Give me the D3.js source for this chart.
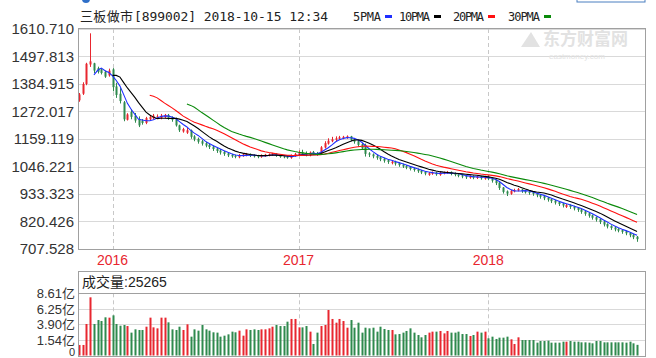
<!DOCTYPE html>
<html><head><meta charset="utf-8">
<script src="https://cdn.jsdelivr.net/npm/d3@7"></script>
<style>body{margin:0;background:#fff}svg{display:block}</style>
</head><body><svg id="c" width="656" height="358"></svg>
<script>
// ---- data (weekly bars, 三板做市 899002) ----
const opens = [1318,1345,1385,1465,1470,1450,1445,1435,1420,1445,
1375,1345,1310,1238,1270,1255,1240,1235,1225,1240,
1245,1248,1245,1248,1258,1248,1240,1215,1190,1185,
1195,1170,1160,1150,1142,1135,1128,1120,1112,1106,
1100,1094,1090,1084,1090,1094,1098,1092,1090,1085,
1090,1093,1095,1099,1091,1088,1086,1082,1090,1096,
1106,1100,1092,1106,1102,1098,1124,1140,1150,1156,
1160,1163,1165,1170,1158,1150,1138,1135,1100,1096,
1090,1084,1078,1072,1060,1066,1060,1054,1048,1044,
1038,1034,1029,1024,1012,1016,1022,1012,1018,1020,
1024,1018,1014,1010,1007,1000,1007,999,1006,996,
1005,998,990,980,960,944,934,944,948,952,
946,942,940,935,930,924,918,912,906,900,
894,880,888,882,876,870,862,854,846,838,
830,820,810,802,796,790,785,780,774,766,
758];
const closes = [1342,1385,1468,1478,1440,1435,1430,1415,1440,1372,
1340,1315,1240,1260,1250,1235,1215,1225,1245,1250,
1255,1252,1255,1258,1245,1238,1215,1195,1200,1195,
1168,1158,1148,1140,1132,1126,1118,1110,1104,1098,
1092,1088,1086,1092,1096,1098,1090,1088,1085,1092,
1095,1097,1099,1090,1086,1084,1082,1092,1098,1104,
1098,1094,1104,1100,1098,1125,1142,1152,1158,1162,
1166,1168,1170,1156,1148,1135,1120,1098,1095,1088,
1082,1076,1070,1065,1066,1058,1052,1046,1042,1036,
1032,1027,1022,1017,1019,1021,1014,1020,1022,1024,
1016,1012,1008,1005,1002,1006,1000,1005,998,1004,
996,988,978,958,942,935,946,950,954,945,
940,938,934,928,922,916,910,904,898,892,
886,888,880,874,868,860,852,844,836,828,
818,808,800,794,788,783,778,772,764,756,
748];
const highs = [1348,1392,1472,1593,1472,1456,1450,1440,1448,1450,
1390,1368,1315,1265,1282,1266,1252,1241,1250,1258,
1262,1260,1262,1262,1262,1252,1247,1218,1205,1205,
1198,1175,1165,1155,1148,1140,1132,1125,1118,1110,
1104,1098,1095,1098,1100,1102,1100,1096,1094,1096,
1098,1100,1102,1101,1095,1092,1090,1096,1102,1112,
1115,1108,1108,1110,1106,1130,1150,1162,1168,1170,
1172,1172,1174,1172,1162,1155,1142,1140,1105,1100,
1094,1088,1082,1076,1072,1070,1064,1058,1052,1048,
1042,1038,1032,1028,1024,1026,1025,1024,1026,1028,
1026,1022,1018,1014,1010,1010,1010,1010,1009,1008,
1010,1000,993,982,962,948,950,955,958,954,
950,946,944,938,933,927,921,915,909,903,
897,892,891,885,879,873,865,857,849,841,
833,823,813,805,799,793,788,783,777,769,
761];
const lows = [1312,1340,1380,1455,1430,1428,1424,1410,1415,1355,
1328,1305,1232,1235,1240,1226,1208,1218,1220,1235,
1240,1242,1240,1245,1238,1230,1210,1188,1185,1180,
1160,1150,1140,1132,1125,1118,1110,1102,1095,1090,
1085,1082,1080,1080,1086,1088,1085,1083,1080,1082,
1086,1088,1090,1086,1082,1080,1078,1078,1086,1090,
1092,1088,1088,1094,1090,1095,1120,1136,1146,1150,
1155,1158,1160,1150,1140,1128,1115,1087,1085,1080,
1074,1068,1062,1057,1055,1050,1045,1040,1035,1030,
1025,1020,1015,1010,1008,1012,1008,1008,1014,1016,
1010,1006,1002,998,995,996,994,995,992,992,
990,980,970,950,935,925,930,940,944,938,
935,930,926,920,914,908,902,896,890,884,
878,876,872,866,860,852,844,836,828,820,
810,800,792,786,780,776,770,764,756,748,
737];
const volumes = [0.78,0.78,3.96,8.0,3.96,4.56,4.41,4.97,4.92,5.27,
3.96,3.70,3.81,3.65,2.65,3.15,3.05,3.05,3.55,4.92,
3.45,3.30,4.92,4.92,4.21,3.15,3.05,3.55,3.05,3.91,
2.04,3.15,2.95,3.81,3.15,2.95,2.70,2.65,2.04,2.19,
2.39,2.80,2.70,2.95,2.19,3.15,3.05,3.15,3.05,3.15,
3.15,3.30,3.55,3.81,3.65,3.65,4.31,4.72,4.72,3.45,
3.45,3.65,2.80,0.93,2.65,3.65,3.81,6.08,4.72,4.16,
4.72,4.41,3.40,4.56,3.40,4.16,2.65,3.40,3.30,3.40,
2.80,3.55,3.20,3.05,3.05,2.39,2.44,2.65,2.90,3.30,
2.65,2.29,1.94,2.29,2.65,2.80,2.80,2.90,2.54,2.90,
2.65,2.65,2.80,2.44,2.44,2.14,2.29,2.80,2.65,2.80,
1.79,2.04,1.69,1.89,1.89,2.04,1.64,0.93,1.94,1.53,
1.53,1.53,1.53,1.13,1.38,1.38,1.43,1.13,1.13,1.13,
1.28,1.28,1.38,1.28,1.28,1.18,1.18,1.13,1.03,1.38,
1.38,1.18,1.18,1.18,1.18,1.18,1.18,1.13,1.28,1.03,
0.8];
const priceTicks = [707.528, 820.426, 933.323, 1046.221, 1159.119, 1272.017, 1384.915, 1497.813, 1610.710];
const volumeTicks = [1.54, 3.90, 6.25, 8.61];
const yearTicks = [{label:"2016", index:9},{label:"2017", index:59},{label:"2018", index:110}];
const maSeries = [{name:"5PMA", n:5, color:"#1f2fff"},{name:"10PMA", n:10, color:"#000000"},{name:"20PMA", n:20, color:"#ff1010"},{name:"30PMA", n:30, color:"#0a8a0a"}];
const titleName = "三板做市", titleInfo = "[899002] 2018-10-15 12:34";
const volumeLabel = "成交量", volumeValue = ":25265";

// ---- layout ----
const svg = d3.select("#c");
const L = 78, R = 645, T = 29, B = 249;
const VT = 271, VH = 293.3, VB = 355.5;
const RED = "#e8262f", GREEN = "#2f8a4e";
const idx = d3.range(closes.length);
const x = d3.scaleBand().domain(idx).range([77.2, 638.9]).padding(0);
const cx = i => x(i) + x.bandwidth()/2;
const y = d3.scaleLinear().domain([707.528, 1610.71]).range([B, T]);
const yv = d3.scaleLinear().domain([-0.815, 8.61]).range([VB, VH]);

// grid main
svg.append("g").selectAll("line").data(priceTicks).join("line")
  .attr("x1", L).attr("x2", R).attr("y1", d => Math.round(y(d))+0.5).attr("y2", d => Math.round(y(d))+0.5)
  .attr("stroke", "#d9d9d9");
svg.append("g").selectAll("line").data(volumeTicks.slice(0,3)).join("line")
  .attr("x1", L).attr("x2", R).attr("y1", d => Math.round(yv(d))+0.5).attr("y2", d => Math.round(yv(d))+0.5)
  .attr("stroke", "#d9d9d9");
// year dashed lines
yearTicks.forEach(t => {
  const xx = Math.round(cx(t.index)) + 0.5;
  svg.append("line").attr("x1", xx).attr("x2", xx).attr("y1", T).attr("y2", B)
    .attr("stroke", "#c8c8c8").attr("stroke-dasharray", "4,3");
  svg.append("line").attr("x1", xx).attr("x2", xx).attr("y1", VH).attr("y2", VB)
    .attr("stroke", "#c8c8c8").attr("stroke-dasharray", "4,3");
  svg.append("text").attr("x", cx(t.index)).attr("y", 265).attr("text-anchor", "middle")
    .attr("font-family", "Liberation Sans, Arial, sans-serif").attr("font-size", 14).attr("fill", "#e8262f").text(t.label);
});

// watermark
const wm = svg.append("g").attr("fill", "#e2e2e2");
wm.append("text").attr("x", 543).attr("y", 45).attr("font-family", "Noto Sans CJK SC").attr("font-size", 17).attr("font-weight", "bold").text("东方财富网");
wm.append("text").attr("x", 549).attr("y", 59).attr("font-family", "Liberation Sans").attr("font-size", 8).text("eastmoney.com");
wm.append("path").attr("d", "M521,47 L531,32 L540,47 Z");

// candles
const g = svg.append("g");
idx.forEach(i => {
  const up = closes[i] >= opens[i];
  const col = up ? RED : GREEN;
  const xc = Math.round(cx(i));
  g.append("line").attr("x1", xc+0.5).attr("x2", xc+0.5).attr("y1", y(highs[i])).attr("y2", y(lows[i])).attr("stroke", col);
  const top = y(Math.max(opens[i], closes[i])), bot = y(Math.min(opens[i], closes[i]));
  g.append("rect").attr("x", xc-0.5).attr("width", 2).attr("y", top).attr("height", Math.max(1, bot-top)).attr("fill", col);
});

// moving averages
maSeries.forEach(s => {
  const vals = idx.map(i => i >= s.n-1 ? d3.mean(closes.slice(i-s.n+1, i+1)) : null);
  const line = d3.line().defined(d => d[1] != null).x(d => cx(d[0])).y(d => y(d[1]));
  svg.append("path").datum(idx.map(i => [i, vals[i]])).attr("d", line)
    .attr("fill", "none").attr("stroke", s.color).attr("stroke-width", 1.1);
});

// volume bars
svg.append("g").selectAll("rect").data(idx).join("rect")
  .attr("x", i => Math.round(cx(i))-0.5).attr("width", 2)
  .attr("y", i => yv(volumes[i])).attr("height", i => VB - yv(volumes[i]))
  .attr("fill", i => closes[i] >= opens[i] ? RED : GREEN);

// frames
svg.append("rect").attr("x", L+0.5).attr("y", 28.5).attr("width", R-L).attr("height", B-28.5+0.5)
  .attr("fill", "none").attr("stroke", "#a0a0a0");
svg.append("rect").attr("x", L+0.5).attr("y", VT+0.5).attr("width", R-L).attr("height", 356-VT)
  .attr("fill", "none").attr("stroke", "#a0a0a0");
svg.append("line").attr("x1", L).attr("x2", R).attr("y1", Math.round(VH)+0.5).attr("y2", Math.round(VH)+0.5).attr("stroke", "#a0a0a0");

// axes
const ay = svg.append("g").attr("transform", `translate(${L},0)`)
  .call(d3.axisLeft(y).tickValues(priceTicks).tickFormat(d3.format(".3f")).tickSize(0).tickPadding(4));
ay.select(".domain").remove();
ay.selectAll("text").attr("font-family", "Liberation Sans, Arial, sans-serif").attr("font-size", 15).attr("fill", "#333");
const av = svg.append("g").attr("transform", `translate(${L},0)`)
  .call(d3.axisLeft(yv).tickValues(volumeTicks).tickFormat(d => d.toFixed(2) + "亿").tickSize(0).tickPadding(3));
av.select(".domain").remove();
av.selectAll("text").attr("font-family", "Liberation Sans, Noto Sans CJK SC, sans-serif").attr("font-size", 13).attr("fill", "#333");
svg.append("text").attr("x", 75).attr("y", 356).attr("text-anchor", "end")
  .attr("font-family", "Liberation Sans, Arial, sans-serif").attr("font-size", 11).attr("fill", "#333").text("0");

// title & legend
svg.append("text").attr("x", 80).attr("y", 21).attr("font-family", "Noto Sans CJK SC").attr("font-size", 13)
  .attr("textLength", 53).attr("fill", "#222").text(titleName);
svg.append("text").attr("x", 134).attr("y", 21).attr("font-family", "DejaVu Sans Mono, monospace").attr("font-size", 13)
  .attr("textLength", 194).attr("fill", "#222").text(titleInfo);
const legX = [353, 399, 453, 508], legW = [28, 31, 31, 32];
maSeries.forEach((s, k) => {
  svg.append("text").attr("x", legX[k]).attr("y", 21).attr("font-family", "DejaVu Sans Mono, monospace").attr("font-size", 12)
    .attr("textLength", legW[k]).attr("fill", "#222").text(s.name);
  svg.append("rect").attr("x", legX[k] + legW[k] + 4).attr("y", 15).attr("width", 7).attr("height", 3).attr("fill", s.color);
});

// volume header
svg.append("text").attr("x", 82).attr("y", 287).attr("font-family", "Noto Sans CJK SC").attr("font-size", 14).attr("fill", "#222").text(volumeLabel);
svg.append("text").attr("x", 124).attr("y", 287).attr("font-family", "Liberation Sans, Arial").attr("font-size", 14).attr("fill", "#222").text(volumeValue);

// top decorations (cut-off UI)
svg.append("circle").attr("cx", 86).attr("cy", -1).attr("r", 4).attr("fill", "#2f6fc8");
svg.append("rect").attr("x", 577).attr("y", -3).attr("width", 68).attr("height", 5).attr("fill", "none").attr("stroke", "#4a7fc0");
</script></body></html>
